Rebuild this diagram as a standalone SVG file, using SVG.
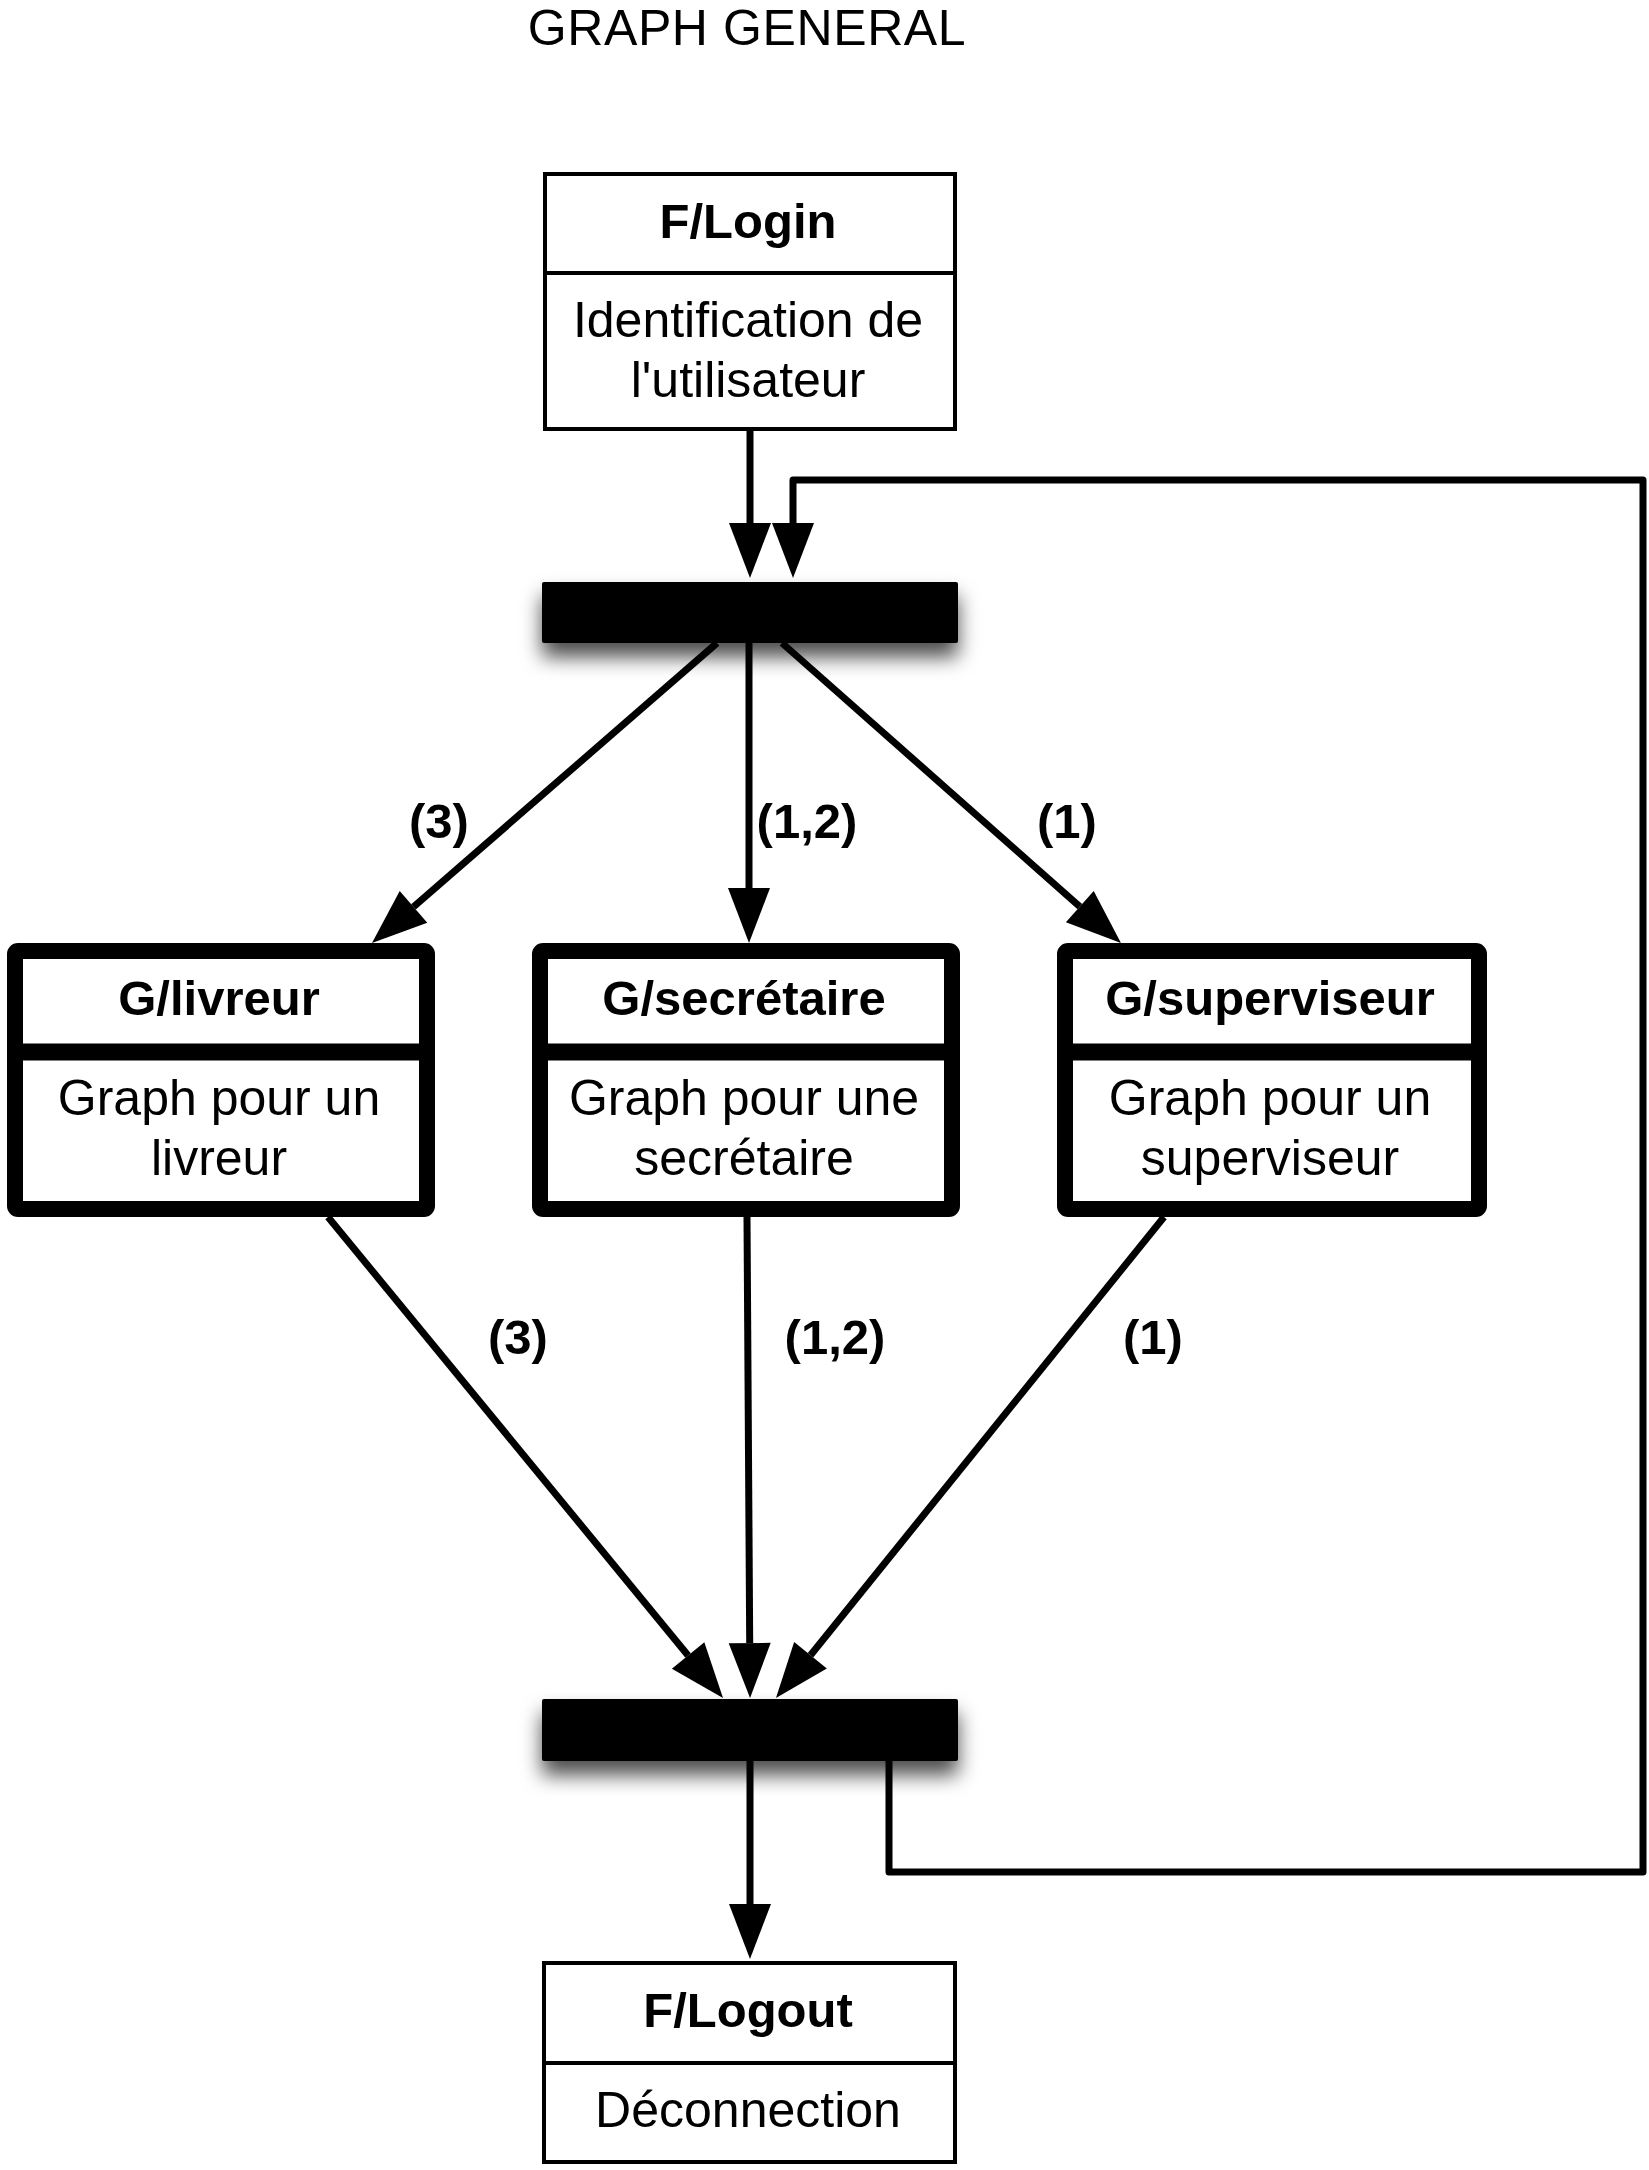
<svg xmlns="http://www.w3.org/2000/svg" width="1649" height="2170" viewBox="0 0 1649 2170">
<style>
  text { font-family: "Liberation Sans", Arial, Helvetica, sans-serif; fill: #000; text-anchor: middle; font-size: 50px; }
  .b { font-weight: bold; font-size: 49px; }
  .thin { fill: #fff; stroke: #000; stroke-width: 4; }
  .thick { fill: #fff; stroke: #000; stroke-width: 16; stroke-linejoin: round; }
  .div4 { stroke: #000; stroke-width: 4; }
  .div16 { stroke: #000; stroke-width: 17; }
  .bar { fill: #000; filter: url(#sh); }
  .conn { fill: none; stroke: #000; stroke-width: 7; stroke-linejoin: miter; marker-end: url(#ah); }
  .loop { fill: none; stroke: #000; stroke-width: 7; stroke-linejoin: round; marker-end: url(#ah); }
</style>
<defs>
  <marker id="ah" markerUnits="userSpaceOnUse" viewBox="0 -21 56 42" refX="0" refY="0" markerWidth="56" markerHeight="42" orient="auto" overflow="visible">
    <path d="M0,-21 L55,0 L0,21 z" fill="#000"/>
  </marker>
  <filter id="sh" x="-20%" y="-60%" width="140%" height="280%">
    <feDropShadow dx="0" dy="14" stdDeviation="10" flood-color="#000" flood-opacity="0.7"/>
  </filter>
</defs>
<rect width="1649" height="2170" fill="#fff"/>
<text x="747" y="45" font-size="50" letter-spacing="0.6">GRAPH GENERAL</text>

<g id="nodes">
  <g id="login">
    <rect class="thin" x="545" y="174" width="410" height="255"/>
    <line class="div4" x1="545" y1="273" x2="955" y2="273"/>
    <text class="b" x="748" y="238">F/Login</text>
    <text x="748" y="337">Identification de</text>
    <text x="748" y="397">l'utilisateur</text>
  </g>
  <g id="fork">
    <rect class="bar" x="542" y="582" width="416" height="61" rx="2"/>
  </g>
  <g id="livreur">
    <rect class="thick" x="15" y="951" width="412" height="258" rx="3"/>
    <line class="div16" x1="15" y1="1052" x2="427" y2="1052"/>
    <text class="b" x="219" y="1015">G/livreur</text>
    <text x="219" y="1115">Graph pour un</text>
    <text x="219" y="1175">livreur</text>
  </g>
  <g id="secretaire">
    <rect class="thick" x="540" y="951" width="412" height="258" rx="3"/>
    <line class="div16" x1="540" y1="1052" x2="952" y2="1052"/>
    <text class="b" x="744" y="1015">G/secrétaire</text>
    <text x="744" y="1115">Graph pour une</text>
    <text x="744" y="1175">secrétaire</text>
  </g>
  <g id="superviseur">
    <rect class="thick" x="1065" y="951" width="414" height="258" rx="3"/>
    <line class="div16" x1="1065" y1="1052" x2="1479" y2="1052"/>
    <text class="b" x="1270" y="1015">G/superviseur</text>
    <text x="1270" y="1115">Graph pour un</text>
    <text x="1270" y="1175">superviseur</text>
  </g>
  <g id="join">
    <rect class="bar" x="542" y="1699" width="416" height="62" rx="2"/>
  </g>
  <g id="logout">
    <rect class="thin" x="544" y="1963" width="411" height="199"/>
    <line class="div4" x1="544" y1="2063" x2="955" y2="2063"/>
    <text class="b" x="748" y="2027">F/Logout</text>
    <text x="748" y="2127">Déconnection</text>
  </g>
</g>

<g id="connectors">
  <path class="conn" d="M750,431 L750,523"/>
  <path class="loop" d="M889,1761 L889,1872 L1643,1872 L1643,480 L793,480 L793,523"/>
  <path class="conn" d="M717,643 L413.5,906.9"/>
  <path class="conn" d="M749,643 L749,888"/>
  <path class="conn" d="M782,643 L1079.8,906.6"/>
  <path class="conn" d="M328,1217 L688.1,1655.5"/>
  <path class="conn" d="M747,1217 L749.7,1643"/>
  <path class="conn" d="M1164,1217 L810.5,1655.2"/>
  <path class="conn" d="M750,1761 L750,1904"/>
  <g id="labels">
    <text class="b" x="439" y="838">(3)</text>
    <text class="b" x="807" y="838">(1,2)</text>
    <text class="b" x="1067" y="838">(1)</text>
    <text class="b" x="518" y="1354">(3)</text>
    <text class="b" x="835" y="1354">(1,2)</text>
    <text class="b" x="1153" y="1354">(1)</text>
  </g>
</g>
</svg>
